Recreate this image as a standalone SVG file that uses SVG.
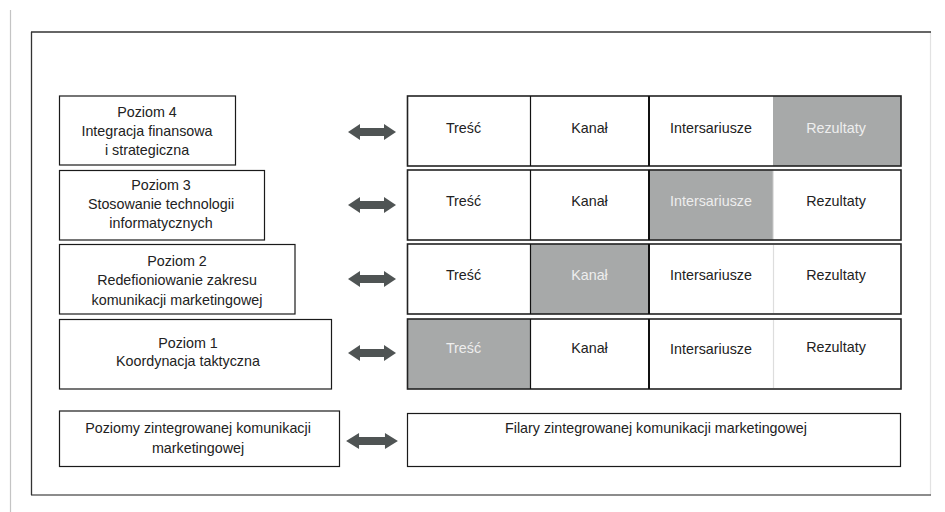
<svg xmlns="http://www.w3.org/2000/svg" width="945" height="512" viewBox="0 0 945 512">
<style>
text{font-family:"Liberation Sans",Arial,sans-serif;font-size:14.3px;fill:#222;text-anchor:middle}
text.w{fill:#eeeeee}
.box{fill:#fff;stroke:#1a1a1a;stroke-width:1.2}
.row{fill:none;stroke:#222;stroke-width:1.6}
.gray{fill:#a7a9a9}
.d1{stroke:#111;stroke-width:1.2}
.d2{stroke:#111;stroke-width:2}
.dl{stroke:#dddddd;stroke-width:1.2}
.arrow{fill:#4f5454}
</style>
<defs>
<path id="arr" d="M-24,0 L-12,-8 L-12,-4 L12,-4 L12,-8 L24,0 L12,8 L12,4 L-12,4 L-12,8 Z"/>
</defs>
<rect width="945" height="512" fill="#fff"/>
<line x1="10.5" y1="10" x2="10.5" y2="512" stroke="#c4c4c4" stroke-width="1.2"/>
<g id="frame">
<line x1="930.5" y1="32" x2="930.5" y2="495" stroke="#e2e2e2" stroke-width="1.2"/>
<line x1="31" y1="495" x2="931" y2="495" stroke="#666" stroke-width="1.5"/>
<line x1="31" y1="32" x2="931" y2="32" stroke="#333" stroke-width="1.5"/>
<line x1="31.5" y1="32" x2="31.5" y2="495" stroke="#333" stroke-width="1.3"/>
</g>

<g id="poziom4">
<rect class="box" x="59.5" y="96" width="176" height="69"/>
<text x="147" y="116.5">Poziom 4</text>
<text x="147" y="135.5">Integracja finansowa</text>
<text x="147" y="155">i strategiczna</text>
</g>
<g id="poziom3">
<rect class="box" x="59.5" y="170.5" width="205" height="69.5"/>
<text x="161" y="190">Poziom 3</text>
<text x="161" y="209">Stosowanie technologii</text>
<text x="161" y="228">informatycznych</text>
</g>
<g id="poziom2">
<rect class="box" x="59.5" y="244.5" width="235.5" height="69.5"/>
<text x="177" y="265.5">Poziom 2</text>
<text x="177" y="285">Redefioniowanie zakresu</text>
<text x="177" y="304.5">komunikacji marketingowej</text>
</g>
<g id="poziom1">
<rect class="box" x="59.5" y="319.5" width="272" height="69.5"/>
<text x="188" y="347.5">Poziom 1</text>
<text x="188" y="366">Koordynacja taktyczna</text>
</g>
<g id="poziomy">
<rect class="box" x="59.5" y="411" width="280" height="55.5"/>
<text x="198" y="433">Poziomy zintegrowanej komunikacji</text>
<text x="198" y="453">marketingowej</text>
</g>

<g id="row4">
<rect x="407.5" y="96" width="493.5" height="70" fill="#fff"/>
<rect class="gray" x="773" y="96" width="128" height="70"/>
<rect class="row" x="407.5" y="96" width="493.5" height="70"/>
<line class="d1" x1="530.5" y1="96" x2="530.5" y2="166"/>
<line class="d2" x1="649" y1="96" x2="649" y2="166"/>
<text x="463.5" y="133">Treść</text>
<text x="589.5" y="133">Kanał</text>
<text x="711" y="133">Intersariusze</text>
<text class="w" x="836" y="133">Rezultaty</text>
</g>
<g id="row3">
<rect x="407.5" y="170" width="493.5" height="70" fill="#fff"/>
<rect class="gray" x="649" y="170" width="124" height="70" stroke="#c8c8c8" stroke-width="1"/>
<rect class="row" x="407.5" y="170" width="493.5" height="70"/>
<line class="d1" x1="530.5" y1="170" x2="530.5" y2="240"/>
<line class="d2" x1="649" y1="170" x2="649" y2="240"/>
<text x="463.5" y="205.5">Treść</text>
<text x="589.5" y="205.5">Kanał</text>
<text class="w" x="711" y="205.5">Intersariusze</text>
<text x="836" y="205.5">Rezultaty</text>
</g>
<g id="row2">
<rect x="407.5" y="244" width="493.5" height="70" fill="#fff"/>
<rect class="gray" x="530.5" y="244" width="118.5" height="70"/>
<rect class="row" x="407.5" y="244" width="493.5" height="70"/>
<line class="d1" x1="530.5" y1="244" x2="530.5" y2="314"/>
<line class="d2" x1="649" y1="244" x2="649" y2="314"/>
<line class="dl" x1="773.5" y1="245" x2="773.5" y2="313"/>
<text x="463.5" y="280">Treść</text>
<text class="w" x="589.5" y="280">Kanał</text>
<text x="711" y="280">Intersariusze</text>
<text x="836" y="280">Rezultaty</text>
</g>
<g id="row1">
<rect x="407.5" y="319" width="493.5" height="70" fill="#fff"/>
<rect class="gray" x="407.5" y="319" width="123" height="70"/>
<rect class="row" x="407.5" y="319" width="493.5" height="70"/>
<line class="d1" x1="530.5" y1="319" x2="530.5" y2="389"/>
<line class="d2" x1="649" y1="319" x2="649" y2="389"/>
<line class="dl" x1="773.5" y1="320" x2="773.5" y2="388"/>
<text class="w" x="463.5" y="353">Treść</text>
<text x="589.5" y="353">Kanał</text>
<text x="711" y="353.5">Intersariusze</text>
<text x="836" y="352">Rezultaty</text>
</g>
<g id="filary">
<rect class="box" x="407.5" y="413.5" width="493" height="53"/>
<text x="656" y="433">Filary zintegrowanej komunikacji marketingowej</text>
</g>

<g id="connectors" class="arrow">
<use href="#arr" x="372" y="132"/>
<use href="#arr" x="372" y="205"/>
<use href="#arr" x="372" y="279"/>
<use href="#arr" x="372" y="353"/>
<use href="#arr" transform="translate(372,441) scale(1.08,1)"/>
</g>
</svg>
